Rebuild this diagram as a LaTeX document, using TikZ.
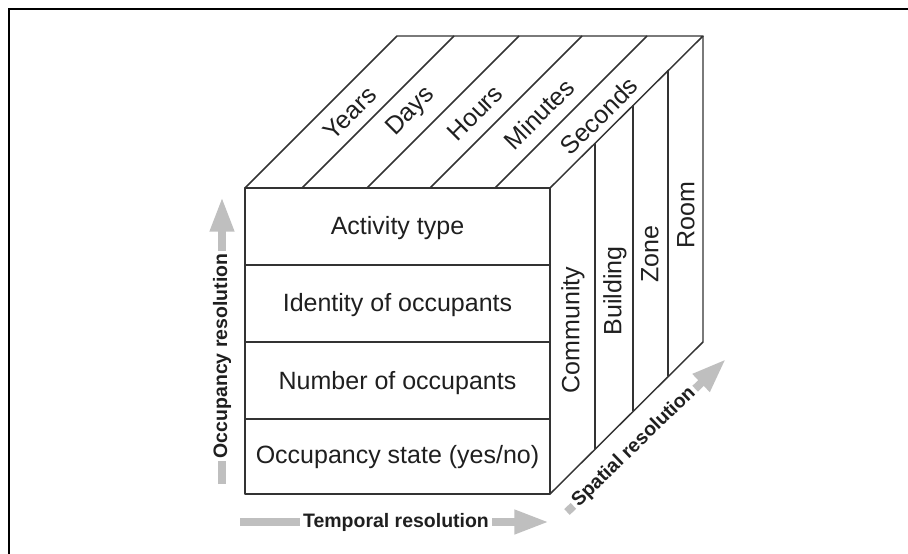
\documentclass[tikz,border=0pt]{standalone}
\usepackage{fontspec}
\setmainfont{Liberation Sans}
\usetikzlibrary{arrows.meta}
\begin{document}
\begin{tikzpicture}[x=0.75pt,y=-0.75pt,
  cubeline/.style={draw=black!80, line width=1.1pt, line join=round},
  lbl/.style={font=\fontsize{18.75}{22}\selectfont, text=black!88, inner sep=0pt},
  axlbl/.style={font=\bfseries\fontsize{14.6}{17}\selectfont, fill=white, inner xsep=2pt, inner ysep=1pt, text=black!88},
  axarrow/.style={draw=black!25, line width=6pt, -{Triangle[length=26pt,width=17pt]}}]
\path[use as bounding box] (0,0) rectangle (908,554);
% frame
\draw[line width=1.6pt] (9,554) -- (9,9) -- (908,9);

% cube corners
\coordinate (FTL) at (245,188);
\coordinate (FTR) at (550,188);
\coordinate (FBL) at (245,494);
\coordinate (FBR) at (550,494);
\coordinate (BTL) at (397,36);
\coordinate (BTR) at (703,36);
\coordinate (BBR) at (703,342);

% faces
\draw[cubeline] (FTL) rectangle (FBR);
\draw[cubeline] (FTL) -- (BTL) -- (BTR) -- (FTR);
\draw[cubeline] (BTR) -- (BBR) -- (FBR);

% front rows
\draw[cubeline] (245,265) -- (550,265);
\draw[cubeline] (245,342) -- (550,342);
\draw[cubeline] (245,419) -- (550,419);

% top dividers
\draw[cubeline] (302,188) -- (454,36);
\draw[cubeline] (367,188) -- (519,36);
\draw[cubeline] (430,188) -- (582,36);
\draw[cubeline] (495,188) -- (647,36);

% right dividers
\draw[cubeline] (595,143) -- (595,449);
\draw[cubeline] (633,105) -- (633,411);
\draw[cubeline] (668,70) -- (668,376);

% front labels
\node[lbl] (act) at (397.5,228) {Activity type};
\node[lbl] (ide) at (397.5,305) {Identity of occupants};
\node[lbl] (num) at (397.5,383) {Number of occupants};
\node[lbl] (sta) at (397.5,457) {Occupancy state (yes/no)};

% top labels
\node[lbl, rotate=45] (yrs) at (350,113) {Years};
\node[lbl, rotate=45] (dys) at (411,112) {Days};
\node[lbl, rotate=45] (hrs) at (475,113) {Hours};
\node[lbl, rotate=45] (mins) at (539,114) {Minutes};
\node[lbl, rotate=45] (secs) at (599,116) {Seconds};

% right labels
\node[lbl, rotate=90] (com) at (573,330) {Community};
\node[lbl, rotate=90] (bld) at (615,291) {Building};
\node[lbl, rotate=90] (zon) at (650,254) {Zone};
\node[lbl, rotate=90] (rom) at (686,215) {Room};

% axis arrows
\coordinate (oA) at (222,484);
\coordinate (oB) at (222,197);
\draw[axarrow] (oA) -- (oB);
\node[axlbl, rotate=90] (occ) at (222,356) {Occupancy resolution};

\coordinate (tA) at (240,522);
\coordinate (tB) at (549,522);
\draw[axarrow] (tA) -- (tB);
\node[axlbl] (tem) at (396,522) {Temporal resolution};

\coordinate (sA) at (567,512);
\coordinate (sB) at (726,359);
\draw[axarrow] (sA) -- (sB);
\node[axlbl, rotate=44] (spa) at (634,447) {Spatial resolution};
\end{tikzpicture}
\end{document}
